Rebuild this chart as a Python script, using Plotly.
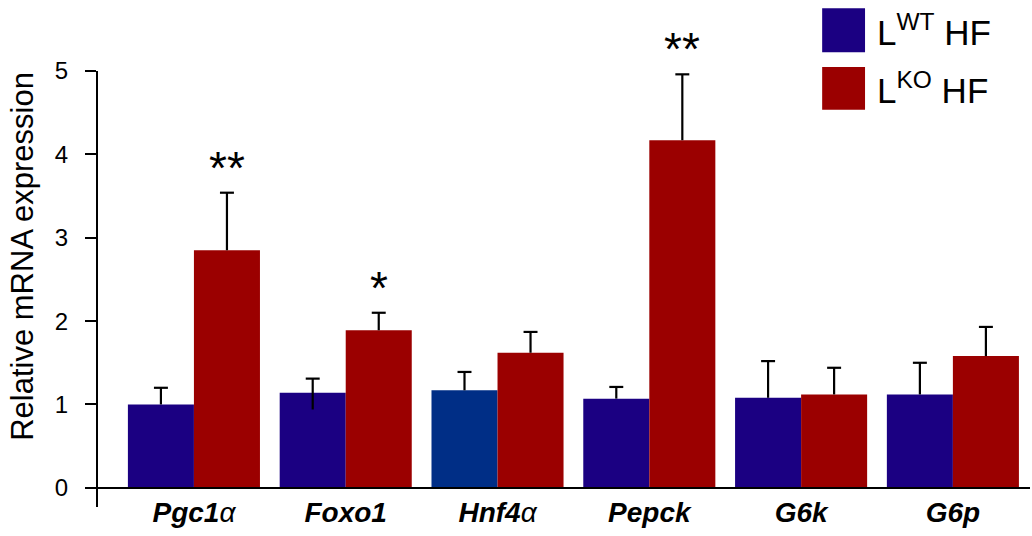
import plotly.graph_objects as go

# ---- data ----
genes = ["Pgc1α", "Foxo1", "Hnf4α", "Pepck", "G6k", "G6p"]
gene_labels = ["<b><i>Pgc1</i></b><i>α</i>", "<b><i>Foxo1</i></b>", "<b><i>Hnf4</i></b><i>α</i>",
               "<b><i>Pepck</i></b>", "<b><i>G6k</i></b>", "<b><i>G6p</i></b>"]
wt_vals = [1.00, 1.14, 1.17, 1.07, 1.08, 1.12]
wt_err_up = [0.20, 0.17, 0.22, 0.14, 0.44, 0.38]
wt_err_down = [0.0, 0.20, 0.0, 0.0, 0.0, 0.0]
ko_vals = [2.85, 1.89, 1.62, 4.17, 1.12, 1.58]
ko_err_up = [0.69, 0.21, 0.25, 0.79, 0.32, 0.35]
ko_err_down = [0.0, 0.0, 0.0, 0.0, 0.0, 0.0]
signif = ["**", "*", "", "**", "", ""]
y_ticks = [0, 1, 2, 3, 4, 5]

WT_COLOR = "#1b0082"
WT_ALT = "#002e86"
KO_COLOR = "#9b0000"
FONT = "Liberation Sans, Arial, Helvetica, sans-serif"

wt_colors = [WT_ALT if g == "Hnf4α" else WT_COLOR for g in genes]

y_min, y_max = -0.23, 5.0
x_range = [-0.632, 5.508]
bargap = 0.13
bar_w = (1 - bargap) / 2
cap_half = 0.046  # half cap width in category units

fig = go.Figure()
fig.add_trace(go.Bar(x=genes, y=wt_vals, name="WT",
                     marker=dict(color=wt_colors, line=dict(width=0))))
fig.add_trace(go.Bar(x=genes, y=ko_vals, name="KO",
                     marker=dict(color=KO_COLOR, line=dict(width=0))))


def whiskers(vals, up, down, offset):
    xs, ys = [], []
    for i, (v, u, d) in enumerate(zip(vals, up, down)):
        xc = i + offset
        xs += [xc, xc, None, xc - cap_half, xc + cap_half, None]
        ys += [v - d, v + u, None, v + u, v + u, None]
    return xs, ys


for vals, up, down, off in [(wt_vals, wt_err_up, wt_err_down, -bar_w / 2),
                            (ko_vals, ko_err_up, ko_err_down, bar_w / 2)]:
    xs, ys = whiskers(vals, up, down, off)
    fig.add_trace(go.Scatter(x=xs, y=ys, mode="lines", xaxis="x2", yaxis="y",
                             line=dict(color="black", width=2.2), hoverinfo="skip",
                             showlegend=False, connectgaps=False))

# significance stars above KO bars
for i, s in enumerate(signif):
    if s:
        fig.add_annotation(
            x=i + bar_w / 2, y=ko_vals[i] + ko_err_up[i], xref="x2", yref="y",
            text=s, showarrow=False, yanchor="bottom", yshift=-3,
            font=dict(family=FONT, size=46, color="black"),
        )

# y-axis title
fig.add_annotation(
    x=-0.081, y=0.575, xref="paper", yref="paper", text="Relative mRNA expression",
    textangle=-90, showarrow=False, xanchor="center", yanchor="middle",
    font=dict(family=FONT, size=31, color="black"),
)

# custom legend
legend_items = [("L<sup>WT</sup> HF", WT_COLOR), ("L<sup>KO</sup> HF", KO_COLOR)]
sq_x0, sq_x1 = 0.777, 0.823
rows = [(1.144, 1.043), (1.009, 0.911)]
for (label, col), (y1, y0) in zip(legend_items, rows):
    fig.add_shape(type="rect", xref="paper", yref="paper", x0=sq_x0, x1=sq_x1, y0=y0, y1=y1,
                  fillcolor=col, line=dict(width=0))
    fig.add_annotation(x=0.834, y=(y0 + y1) / 2, xref="paper", yref="paper", text=label,
                       showarrow=False, xanchor="left", yanchor="middle",
                       font=dict(family=FONT, size=35, color="black"))

fig.update_layout(
    barmode="group", bargap=bargap, bargroupgap=0,
    width=1032, height=536,
    margin=dict(l=98, r=2, t=71, b=29, autoexpand=False),
    plot_bgcolor="white", paper_bgcolor="white",
    showlegend=False,
    font=dict(family=FONT, color="black"),
    xaxis2=dict(overlaying="x", range=x_range, visible=False, anchor="y"),
)
fig.layout.xaxis.update(
    type="category", range=x_range,
    tickmode="array", tickvals=genes, ticktext=gene_labels,
    tickfont=dict(family=FONT, size=28, color="black"),
    showline=True, linecolor="black", linewidth=2,
    anchor="free", position=(0 - y_min) / (y_max - y_min),
    ticks="", showgrid=False, zeroline=False, automargin=False,
)
fig.update_yaxes(
    range=[y_min, y_max], tickmode="array", tickvals=y_ticks,
    tickfont=dict(family=FONT, size=24, color="black"),
    showline=True, linecolor="black", linewidth=2,
    ticks="outside", ticklen=11, tickwidth=2, tickcolor="black",
    ticklabelstandoff=12, automargin=False,
    showgrid=False, zeroline=False,
)

fig.write_html("out.html", config={"displayModeBar": False},
               post_script="document.body.style.margin='0';document.body.style.overflow='hidden';")
